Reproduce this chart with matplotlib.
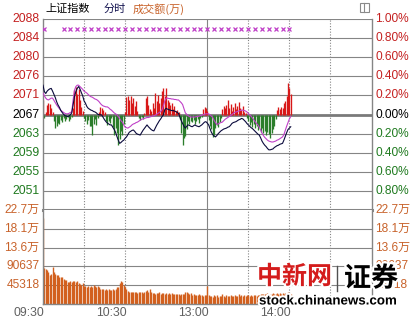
import matplotlib
matplotlib.use('Agg')
import matplotlib.pyplot as plt
import matplotlib.transforms as mtransforms
from matplotlib import patheffects as pe
from matplotlib.patches import Rectangle
from matplotlib.lines import Line2D
import numpy as np

# ---------------- data ----------------
prev_close = 2067.35

price = [
 2073.7,2072.3,2071.9,2072.4,2072.7,2072.9,2073.0,2072.4,2071.7,2071.0,
 2070.1,2069.4,2068.9,2068.2,2067.8,2067.4,2067.1,2067.0,2066.9,2067.0,
 2067.3,2067.7,2069.5,2071.2,2072.3,2073.0,2073.4,2072.9,2072.1,2071.4,
 2070.3,2069.8,2069.1,2068.7,2068.5,2068.3,2068.2,2068.0,2067.9,2067.7,
 2067.4,2067.3,2067.3,2067.2,2066.7,2066.2,2065.8,2065.5,2065.3,2065.1,
 2065.1,2064.6,2064.1,2063.5,2062.6,2061.8,2061.1,2061.3,2061.6,2061.8,
 2062.2,2062.5,2063.0,2063.5,2063.7,2063.9,2064.0,2063.7,2063.3,2063.1,
 2063.0,2062.9,2063.4,2063.9,2064.3,2064.7,2065.1,2064.7,2064.4,2064.1,
 2063.9,2063.8,2064.4,2065.0,2065.5,2066.0,2066.4,2066.9,2067.3,2068.4,
 2068.7,2068.5,2068.4,2068.3,2068.2,2068.2,2068.1,2068.0,2067.8,2067.6,
 2066.8,2066.0,2065.4,2064.8,2064.4,2064.8,2065.1,2065.0,2064.8,2064.7,
 2064.9,2065.1,2064.9,2064.8,2064.7,2064.9,2065.1,2065.4,2065.7,2065.8,
 2065.5,2065.1,2064.3,2063.5,2063.0,2062.7,2062.5,2062.8,2063.2,2063.5,
 2063.8,2064.0,2064.2,2064.3,2064.4,2064.6,2064.7,2065.0,2065.4,2065.6,
 2065.7,2065.8,2066.0,2066.2,2066.3,2066.5,2066.4,2066.1,2065.8,2065.4,
 2065.1,2064.8,2064.5,2064.3,2064.0,2063.7,2063.4,2063.1,2062.9,2062.3,
 2061.6,2061.1,2060.7,2060.4,2060.0,2059.7,2059.7,2059.8,2059.9,2060.2,
 2060.4,2060.6,2060.7,2060.9,2061.0,2061.1,2061.8,2062.6,2063.4,2064.1,
 2064.4,2064.7]

avg_line = [
 2072.0,2071.4,2070.9,2070.6,2070.5,2070.7,2070.9,2070.9,2070.4,2069.9,
 2069.4,2069.0,2068.6,2068.3,2068.0,2067.8,2067.6,2067.5,2067.5,2067.6,
 2067.8,2067.9,2070.5,2072.6,2073.4,2073.7,2073.7,2073.4,2073.1,2072.8,
 2072.4,2072.2,2072.0,2071.7,2071.4,2071.2,2071.1,2070.9,2070.7,2070.6,
 2070.4,2070.1,2069.7,2069.4,2069.2,2069.1,2069.0,2069.0,2068.8,2068.5,
 2068.3,2068.0,2067.7,2067.5,2067.3,2066.9,2066.5,2066.0,2065.7,2065.1,
 2064.6,2064.5,2064.4,2064.6,2064.8,2065.1,2065.3,2065.4,2065.6,2065.7,
 2065.9,2066.1,2066.3,2066.4,2066.5,2066.6,2066.7,2066.7,2066.8,2066.9,
 2067.0,2067.1,2067.2,2067.4,2067.6,2067.8,2068.0,2068.4,2069.3,2070.3,
 2070.9,2070.9,2070.8,2070.8,2070.7,2070.7,2070.6,2070.6,2070.5,2070.5,
 2070.2,2069.9,2069.5,2068.6,2067.7,2067.4,2067.1,2066.9,2066.8,2066.8,
 2066.8,2066.8,2066.9,2066.9,2067.0,2067.1,2067.2,2067.3,2067.4,2067.5,
 2067.5,2067.5,2067.3,2067.0,2066.7,2066.1,2065.6,2065.2,2065.3,2065.5,
 2065.6,2065.7,2066.0,2066.3,2066.5,2066.7,2066.9,2067.1,2067.3,2067.6,
 2067.8,2067.9,2068.0,2068.1,2068.2,2068.3,2068.3,2068.2,2068.1,2067.9,
 2067.6,2067.3,2067.0,2066.6,2066.2,2065.8,2065.4,2065.1,2064.6,2064.0,
 2063.3,2062.8,2062.4,2062.1,2061.8,2061.6,2061.5,2061.4,2061.4,2061.5,
 2061.6,2061.8,2061.9,2062.1,2062.3,2062.5,2063.0,2063.9,2064.8,2065.6,
 2066.4,2066.9]

# buy/sell strength bars (index points relative to previous close)
strength = [
 3.1,-0.8,0.5,2.0,2.5,2.2,1.5,0.6,-1.5,-2.9,
 -2.4,-1.8,-2.0,-1.2,-1.6,-0.8,-1.5,-1.0,-0.6,-1.4,
 -0.9,-0.5,1.5,5.3,5.9,4.5,5.5,3.2,1.6,0.8,
 -0.8,-1.5,-2.0,-1.2,-2.5,-2.5,-4.4,-2.0,-1.0,-2.2,
 -0.8,0.6,1.6,1.4,1.0,0.5,-1.5,-2.2,-1.3,-1.8,
 -0.8,-2.8,-4.4,-3.0,-4.0,-6.6,-5.2,-3.5,-4.5,-2.0,
 0.5,3.8,4.0,3.2,4.1,2.5,3.6,1.8,3.0,0.8,
 -0.8,-1.2,-0.6,-1.0,0.4,3.6,4.0,2.0,1.2,0.8,
 2.5,1.5,4.7,3.0,4.2,2.4,3.5,5.0,5.7,4.0,
 5.7,3.1,2.8,2.0,2.4,1.2,1.8,0.8,1.0,0.5,
 -1.0,-4.0,-6.6,-5.0,-4.6,-3.2,-1.5,-2.0,-1.4,-1.7,
 -1.2,-2.0,-1.5,-1.0,-1.8,-0.8,-0.5,1.2,1.6,1.4,
 0.8,-1.2,-2.4,-3.2,-4.8,-4.4,-3.0,-2.2,-2.6,-1.6,
 -0.8,1.2,1.8,1.4,2.0,3.1,1.5,2.2,0.8,1.6,
 2.4,1.2,1.8,2.6,1.4,1.0,1.8,0.6,0.4,-0.8,
 -1.5,-2.2,-1.6,-2.8,-2.0,-3.0,-2.4,-3.4,-2.8,-3.8,
 -3.0,-4.0,-3.6,-4.4,-3.8,-4.2,-5.1,-4.0,-3.2,-2.4,
 -1.0,1.0,1.6,1.2,1.7,1.4,2.5,3.0,4.0,6.8,
 5.8,4.4]

volume = [
 208000,86000,84000,81000,78000,70000,72000,89000,76000,73000,
 71000,70000,66000,64000,65000,60000,59000,58000,54000,53000,
 55000,52000,55000,56000,54000,56000,51000,49000,47000,50000,
 44000,43000,42000,44000,41000,43000,42000,45000,43000,41000,
 44000,42000,36000,35000,37000,34000,35000,33000,36000,34000,
 33000,35000,34000,36000,40000,42000,50000,56000,52000,45000,
 41000,37000,31000,29000,30000,28000,29000,28000,30000,27000,
 29000,28000,30000,27000,29000,31000,33000,30000,35000,29000,
 26000,27000,25000,27000,26000,28000,25000,26000,27000,25000,
 26000,24000,27000,25000,26000,24000,25000,23000,25000,24000,
 22000,25000,24000,23000,29000,28000,26000,24000,27000,22000,
 23000,21000,22000,21000,23000,21000,22000,20000,21000,22000,
 44000,21000,19000,20000,18000,21000,19000,22000,18000,20000,
 19000,24000,20000,18000,21000,19000,20000,22000,19000,20000,
 21000,20000,19000,23000,20000,21000,19000,22000,20000,21000,
 22000,20000,21000,19000,22000,21000,20000,22000,21000,23000,
 24000,23000,25000,24000,26000,24000,25000,23000,26000,25000,
 24000,26000,25000,27000,24000,26000,25000,27000,26000,29000,
 27000,25000]

marker_minutes = [1] + list(range(15, 181, 5))

pct_ticks = [1.0, 0.8, 0.6, 0.4, 0.2, 0.0, -0.2, -0.4, -0.6, -0.8]
left_labels = ['2088', '2084', '2080', '2076', '2071', '2067', '2063', '2059', '2055', '2051']
right_labels = ['1.00%', '0.80%', '0.60%', '0.40%', '0.20%', '0.00%', '0.20%', '0.40%', '0.60%', '0.80%']
vol_ticks = [226592, 181274, 135955, 90637, 45318]
vol_labels = ['22.7万', '18.1万', '13.6万', '90637', '45318']
time_ticks = [0, 60, 120, 180]
time_labels = ['09:30', '10:30', '13:00', '14:00']

# ---------------- style ----------------
RED = '#c42020'
GREEN = '#1f7a1f'
ORANGE_T = '#c8622a'
BAR_RED = '#d81818'
BAR_GREEN = '#2b7d2b'
VOL_C = '#d2601e'
GRID = '#858585'
NUMF = ['Liberation Sans', 'DejaVu Sans']
CJKF = ['Noto Sans CJK SC', 'DejaVu Sans']
MIXF = ['Liberation Sans', 'Noto Sans CJK SC', 'DejaVu Sans']

W, H = 413, 321
fig = plt.figure(figsize=(W / 100, H / 100), dpi=100)
fig.patch.set_facecolor('white')


def fx(x):
    return x / W


def fy(y):
    return 1 - y / H


L, R = 43, 371.5
ax = fig.add_axes([fx(L), fy(210), (R - L) / W, (210 - 19) / H])
axv = fig.add_axes([fx(L), fy(304), (R - L) / W, (304 - 210) / H])

minutes = np.arange(len(price))
hi = prev_close * 1.01
lo = prev_close * 0.99

for a in (ax, axv):
    a.set_xlim(0, 240)
    a.set_xticks([])
    a.set_yticks([])
    for s in a.spines.values():
        s.set_color(GRID)
        s.set_linewidth(1)
    a.spines['top'].set_visible(False)
    for m in (30, 60, 150, 180, 210):
        a.axvline(m, color=GRID, lw=0.8, ls=(0, (1, 1.5)), zorder=1)
    a.axvline(120, color=GRID, lw=0.8, zorder=1)

ax.set_ylim(lo, hi)
ax.spines['bottom'].set_linewidth(2.2)
for p in pct_ticks:
    yv = prev_close * (1 + p / 100)
    ax.axhline(yv, color=GRID if p != 0 else '#7a7a7a', lw=(0.8 if p != 0 else 2.0), zorder=1)

# strength bars
st = np.array(strength)
ax.vlines(minutes[st > 0], prev_close, prev_close + st[st > 0], color=BAR_RED, lw=0.95, zorder=2)
ax.vlines(minutes[st < 0], prev_close + st[st < 0], prev_close, color=BAR_GREEN, lw=0.95, zorder=2)

ax.plot(minutes, avg_line, color='#c040c8', lw=0.8, zorder=3)
ax.plot(minutes, price, color='#0a0a3c', lw=0.8, zorder=4)

mk_y = prev_close * 1.009
ax.plot(marker_minutes, [mk_y] * len(marker_minutes), ls='none', marker='x',
        ms=3, mew=0.9, color='#c040c8', zorder=4)

# volume
axv.set_ylim(0, 226592)
for v in vol_ticks[1:]:
    axv.axhline(v, color=GRID, lw=0.8, zorder=1)
axv.vlines(minutes, 0, volume, color=VOL_C, lw=1.0, zorder=2)

# ---------------- labels ----------------
tl_p = mtransforms.blended_transform_factory(fig.transFigure, ax.transData)
tl_v = mtransforms.blended_transform_factory(fig.transFigure, axv.transData)

for p, ll, rl in zip(pct_ticks, left_labels, right_labels):
    yv = prev_close * (1 + p / 100)
    c = RED if p > 0 else ('black' if p == 0 else GREEN)
    fig.text(fx(39.5), yv, ll, transform=tl_p, ha='right', va='center',
             fontsize=8.8, color=c, family=NUMF)
    fig.text(fx(375), yv, rl, transform=tl_p, ha='left', va='center',
             fontsize=8.6, color=c, family=NUMF)

for v, lab in zip(vol_ticks, vol_labels):
    fig.text(fx(39.5), v, lab, transform=tl_v, ha='right', va='center',
             fontsize=8.6, color=ORANGE_T, family=MIXF)
    fig.text(fx(375), v, lab, transform=tl_v, ha='left', va='center',
             fontsize=8.6, color=ORANGE_T, family=MIXF)

tl_t = mtransforms.blended_transform_factory(axv.transData, fig.transFigure)
for t, lab in zip(time_ticks, time_labels):
    fig.text(t + 1.2, fy(313.5), lab, transform=tl_t, ha='right', va='center',
             fontsize=8.8, color='#606060', family=NUMF)

# header
fig.text(fx(45), fy(9), '上证指数', ha='left', va='center', fontsize=8, color='black', family=CJKF)
fig.text(fx(104), fy(9), '分时', ha='left', va='center', fontsize=8, color='#141450', family=CJKF)
fig.text(fx(133), fy(9), '成交额(万)', ha='left', va='center', fontsize=8, color=ORANGE_T, family=CJKF)

# small icon top-right
fig.add_artist(Rectangle((fx(359.5), fy(12)), 9.5 / W, 9 / H, transform=fig.transFigure,
                         fill=False, edgecolor='#8a8a8a', lw=0.8))
fig.add_artist(Line2D([fx(364.3), fx(364.3)], [fy(12), fy(3)], transform=fig.transFigure,
                      color='#8a8a8a', lw=0.8))

# watermark
halo = [pe.withStroke(linewidth=3, foreground='white')]
fig.text(fx(257), fy(277), '中新网', ha='left', va='center', fontsize=18, fontweight='bold',
         color='#d41c1c', family=CJKF, path_effects=halo, zorder=10)
fig.add_artist(Line2D([fx(337), fx(337)], [fy(266), fy(291)], transform=fig.transFigure,
                      color='#505050', lw=1, zorder=10))
fig.text(fx(344), fy(278.5), '证券', ha='left', va='center', fontsize=19.5, fontweight='bold',
         color='black', family=CJKF, path_effects=halo, zorder=10)
fig.text(fx(259), fy(301.5), 'stock.chinanews.com', ha='left', va='center', fontsize=9.6,
         fontweight='bold', color='black', family=NUMF, path_effects=halo, zorder=10)

fig.savefig('out.png', dpi=100, facecolor='white')
